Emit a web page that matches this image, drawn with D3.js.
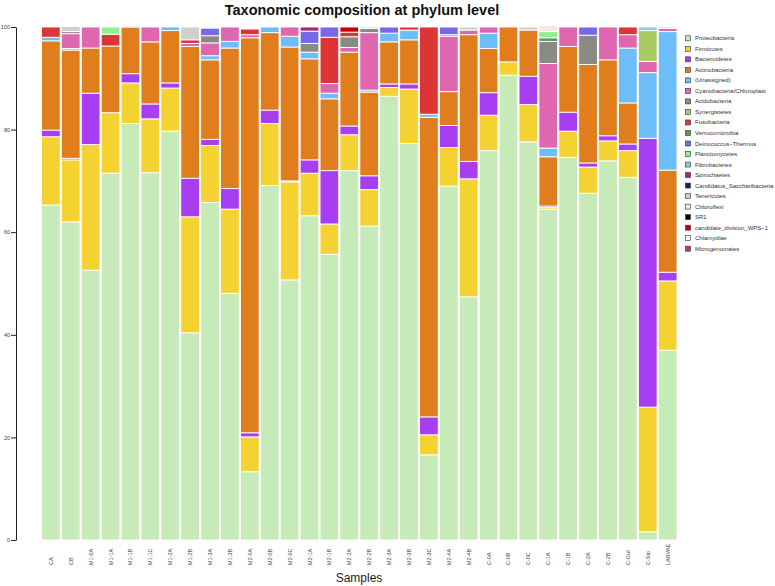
<!DOCTYPE html>
<html><head><meta charset="utf-8">
<script src="https://cdn.jsdelivr.net/npm/d3@7"></script>
<style>body{margin:0;background:#fff;} svg{display:block;font-family:"Liberation Sans",Arial,sans-serif;}</style>
</head><body>
<svg id="c" width="775" height="586"></svg>
<script>
const samples = ["CA","CB","M1-0A","M1-1A","M1-1B","M1-1C","M1-2A","M1-2B","M1-3A","M1-3B","M2-0A","M2-0B","M2-0C","M2-1A","M2-1B","M2-2A","M2-2B","M2-3A","M2-3B","M2-3C","M2-4A","M2-4B","C-0A","C-0B","C-0C","C-1A","C-1B","C-2A","C-2B","C-Gut","C-Sto","LARVAE"];
const taxa = ["Proteobacteria","Firmicutes","Bacteroidetes","Actinobacteria","(Unassigned)","Cyanobacteria/Chloroplast","Acidobacteria","Synergistetes","Fusobacteria","Verrucomicrobia","Deinococcus\u2013Thermus","Planctomycetes","Fibrobacteres","Spirochaetes","Candidatus_Saccharibacteria","Tenericutes","Chloroflexi","SR1","candidate_division_WPS\u20131","Chlamydiae","Microgenomates"];
const colors = ["#c6ebb8","#f3d232","#a73ef2","#e07e1d","#6dbdf8","#df67b0","#8a8a85","#a9ca62","#dc3535","#4f9a55","#7868e8","#8ff08f","#7fd3d0","#a32a72","#1c1c66","#cfcfcf","#f6e6e4","#000000","#c40000","#ffffff","#c0307c"];

const proteobacteria = [65.3,62.0,52.6,71.5,81.2,71.6,79.7,40.4,65.8,48.1,13.3,69.1,50.7,63.2,55.7,72.0,61.2,86.5,77.3,16.6,69.0,47.4,75.9,90.6,77.6,64.5,74.6,67.6,73.9,70.7,1.6,37.0];
const firmicutes = [13.3,12.1,24.5,11.8,7.9,10.5,8.4,22.6,11.1,16.4,6.8,12.1,19.1,8.3,5.9,7.0,7.1,1.7,10.6,3.9,7.5,23.0,6.9,2.6,7.3,0.3,5.1,5.1,3.9,5.2,24.3,13.5];
const bacteroidetes = [1.3,0.3,10.0,0,1.8,2.9,1.0,7.5,1.2,4.0,0.8,2.6,0.2,2.6,10.4,1.7,2.7,0.7,1.0,3.5,4.3,3.4,4.4,0,5.5,0.3,3.7,0.8,1.0,1.3,52.4,1.7];
const actinobacteria = [17.4,21.1,8.8,13.0,9.1,12.1,10.2,25.7,15.5,27.4,77.0,15.1,26.1,19.7,14.0,14.4,16.3,8.2,8.6,58.4,6.6,24.7,8.6,6.8,9.0,9.6,12.8,19.2,14.8,8.0,0,19.9];
const unassigned = [0.7,0.3,0,0,0,0,0.7,0,0.8,1.3,0,1.1,2.1,1.3,1.1,0,0.4,1.7,1.9,0.6,0,0,3.0,0,0,1.7,0,0,0,10.7,12.8,27.0];
const cyanobacteria = [0,2.9,4.1,0,0.2,2.9,0,0.6,2.5,2.8,0.6,0,1.8,0,1.9,0.9,11.2,0,0,0,10.8,0.9,1.2,0,0,16.5,3.8,0,6.4,2.6,2.2,0.6];
const acidobacteria = [0,0.4,0,0,0,0,0,0,1.4,0,0,0,0,1.7,0,2.1,0.8,0,0,0,0.3,0,0,0,0,4.3,0,5.7,0,0,0,0];
const synergistetes = [0,0,0,0,0,0,0,0,0,0,0,0,0,0,0,0,0,0,0,0,0,0,0,0,0,0,0,0,0,0,6.0,0];
const fusobacteria = [2.0,0,0,2.3,0,0,0,0.7,0,0,1.1,0,0,0,9.0,0.9,0,0,0.6,17.0,0,0,0,0,0,0,0,0,0,1.5,0,0];
const verrucomicrobia = [0,0,0,0,0,0,0,0,0,0,0,0,0,0,0,0,0,0,0,0,0,0,0,0,0,0.7,0,0,0,0,0,0];
const deinococcus = [0,0,0,0,0,0,0,0,1.5,0,0,0,0,2.4,2.0,0,0,1.2,0,0,1.5,0,0,0,0,0,0,1.6,0,0,0,0];
const planctomycetes = [0,0,0,1.4,0,0,0,0,0,0,0,0,0,0,0,0,0,0,0,0,0,0,0,0,0,1.2,0,0,0,0,0,0];
const fibrobacteres = [0,0,0,0,0,0,0,0,0,0,0,0,0,0,0,0,0,0,0,0,0,0,0,0,0,0,0,0,0,0,0.7,0];
const spirochaetes = [0,0,0,0,0,0,0,0,0,0,0,0,0,0.8,0,0,0,0,0,0,0,0,0,0,0,0,0,0,0,0,0,0];
const saccharibacteria = new Array(32).fill(0);
const tenericutes = [0,1.0,0,0,0,0,0,2.5,0.2,0,0,0,0,0,0,0,0.3,0,0,0,0,0.6,0,0,0.6,0,0,0,0,0,0,0.3];
const chloroflexi = [0,0,0,0,0,0,0,0,0,0,0,0,0,0,0,0,0,0,0,0,0,0,0,0,0,1.2,0,0,0,0,0,0];
const sr1 = new Array(32).fill(0);
const wps1 = [0,0,0,0,0,0,0,0,0,0,0,0,0,0,0,1.0,0,0,0,0,0,0,0,0,0,0,0,0,0,0,0,0];
const chlamydiae = new Array(32).fill(0);
const microgenomates = new Array(32).fill(0);
const yTicks = [0,20,40,60,80,100];

const seriesValues = [proteobacteria,firmicutes,bacteroidetes,actinobacteria,unassigned,cyanobacteria,acidobacteria,synergistetes,fusobacteria,verrucomicrobia,deinococcus,planctomycetes,fibrobacteres,spirochaetes,saccharibacteria,tenericutes,chloroflexi,sr1,wps1,chlamydiae,microgenomates];
const table = samples.map((s,i)=>{const o={sample:s}; taxa.forEach((t,k)=>o[t]=seriesValues[k][i]); return o;});

const svg = d3.select("#c");
const x = d3.scaleBand().domain(samples).range([41.5,677]).paddingInner(0.06).paddingOuter(0);
const y = d3.scaleLinear().domain([0,100]).range([540,27]);
const color = d3.scaleOrdinal().domain(taxa).range(colors);

const stack = d3.stack().keys(taxa)(table);
svg.append("g").selectAll("g").data(stack).join("g")
  .attr("fill",d=>color(d.key))
  .selectAll("rect").data(d=>d.filter(p=>p[1]-p[0]>0)).join("rect")
  .attr("x",d=>x(d.data.sample))
  .attr("width",x.bandwidth())
  .attr("y",d=>y(d[1]))
  .attr("height",d=>y(d[0])-y(d[1]))
  .attr("stroke","#fff").attr("stroke-width",0.9);

// y axis
const ya = svg.append("g").attr("transform","translate(16,0)")
  .call(d3.axisLeft(y).tickValues(yTicks).tickSize(5).tickSizeOuter(0));
ya.select(".domain").attr("stroke","#222");
ya.selectAll(".tick line").attr("stroke","#222");
ya.selectAll("text").attr("font-size",5.5).attr("fill","#444").attr("x",-6);

// x labels
svg.append("g").selectAll("text").data(samples).join("text")
  .attr("transform",d=>`translate(${x(d)+x.bandwidth()/2+2},565) rotate(-90)`)
  .attr("text-anchor","start").attr("font-size",5.5).attr("fill","#444").text(d=>d);

svg.append("text").attr("x",359).attr("y",582).attr("text-anchor","middle")
  .attr("font-size",12).attr("fill","#222").text("Samples");

svg.append("text").attr("x",362).attr("y",15).attr("text-anchor","middle")
  .attr("font-size",14.5).attr("font-weight","bold").attr("fill","#111").text("Taxonomic composition at phylum level");

// legend
const lg = svg.append("g");
taxa.forEach((t,i)=>{
  const cy = 38.3 + 10.52*i;
  lg.append("rect").attr("x",685.5).attr("y",cy-2.5).attr("width",5).attr("height",5)
    .attr("fill",color(t)).attr("stroke","#333").attr("stroke-width",0.6);
  lg.append("text").attr("x",695).attr("y",cy+2).attr("font-size",6).attr("fill","#333").text(t);
});
</script>
</body></html>
